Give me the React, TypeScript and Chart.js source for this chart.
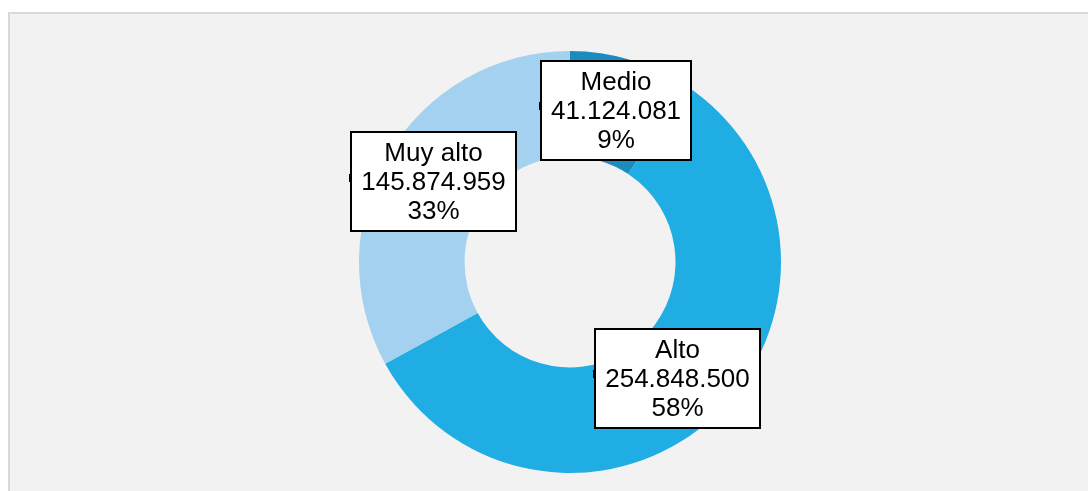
import React, { useEffect, useRef } from "react";
import { Chart, registerables } from "chart.js";

Chart.register(...registerables);

const categories = ["Medio", "Alto", "Muy alto"];
const values = [41124081, 254848500, 145874959];
const colors = ["#1a8cc0", "#1fade3", "#a3d1ef"];

const fmt = (n: number) => String(n).replace(/\B(?=(\d{3})+(?!\d))/g, ".");

const bgPlugin = {
  id: "bgPlugin",
  beforeDraw(chart: any) {
    const ctx = chart.ctx;
    ctx.save();
    ctx.fillStyle = "#ffffff";
    ctx.fillRect(0, 0, chart.width, chart.height);
    ctx.fillStyle = "#f2f2f2";
    ctx.fillRect(8, 12, chart.width - 8, chart.height - 12);
    ctx.fillStyle = "#d9d9d9";
    ctx.fillRect(8, 12, chart.width - 8, 2);
    ctx.fillRect(8, 12, 2, chart.height - 12);
    ctx.restore();
  },
};

const labelPlugin = {
  id: "labelPlugin",
  afterDatasetsDraw(chart: any) {
    const ctx = chart.ctx;
    const meta = chart.getDatasetMeta(0);
    const data: number[] = chart.data.datasets[0].data;
    const total = data.reduce((a, b) => a + b, 0);
    ctx.save();
    ctx.font = '26px "Liberation Sans", Arial, sans-serif';
    ctx.textAlign = "center";
    ctx.textBaseline = "middle";
    meta.data.forEach((arc: any, i: number) => {
      const p = arc.tooltipPosition();
      const lines = [
        chart.data.labels[i],
        fmt(data[i]),
        Math.round((data[i] / total) * 100) + "%",
      ];
      const tw = Math.max(...lines.map((l: string) => ctx.measureText(l).width));
      const w = Math.round(tw + 22);
      const h = 101;
      const x0 = Math.round(p.x - w / 2);
      const y0 = Math.round(p.y - h / 2);
      ctx.fillStyle = "#ffffff";
      ctx.fillRect(x0, y0, w, h);
      ctx.strokeStyle = "#000000";
      ctx.lineWidth = 2;
      ctx.strokeRect(x0 + 1, y0 + 1, w - 2, h - 2);
      ctx.fillStyle = "#000000";
      ctx.fillRect(x0 - 1, Math.round(p.y) - 8, 3, 8);
      ctx.fillStyle = "#000000";
      lines.forEach((l: string, k: number) => {
        ctx.fillText(l, x0 + w / 2, y0 + h / 2 + (k - 1) * 29 + 1);
      });
    });
    ctx.restore();
  },
};

export default function App() {
  const ref = useRef<HTMLCanvasElement>(null);
  useEffect(() => {
    if (!ref.current) return;
    const chart = new Chart(ref.current, {
      type: "doughnut",
      data: {
        labels: categories,
        datasets: [
          {
            data: values,
            backgroundColor: colors,
            borderWidth: 0,
          },
        ],
      },
      options: {
        responsive: false,
        animation: false,
        devicePixelRatio: 1,
        cutout: "50%",
        layout: { padding: { top: 51, bottom: 18, left: 200, right: 148 } },
        plugins: {
          legend: { display: false },
          tooltip: { enabled: false },
        },
      },
      plugins: [bgPlugin, labelPlugin],
    } as any);
    return () => chart.destroy();
  }, []);
  return (
    <div style={{ position: "fixed", left: 0, top: 0, width: 1088, height: 491 }}>
      <canvas ref={ref} width={1088} height={491} style={{ display: "block" }} />
    </div>
  );
}
